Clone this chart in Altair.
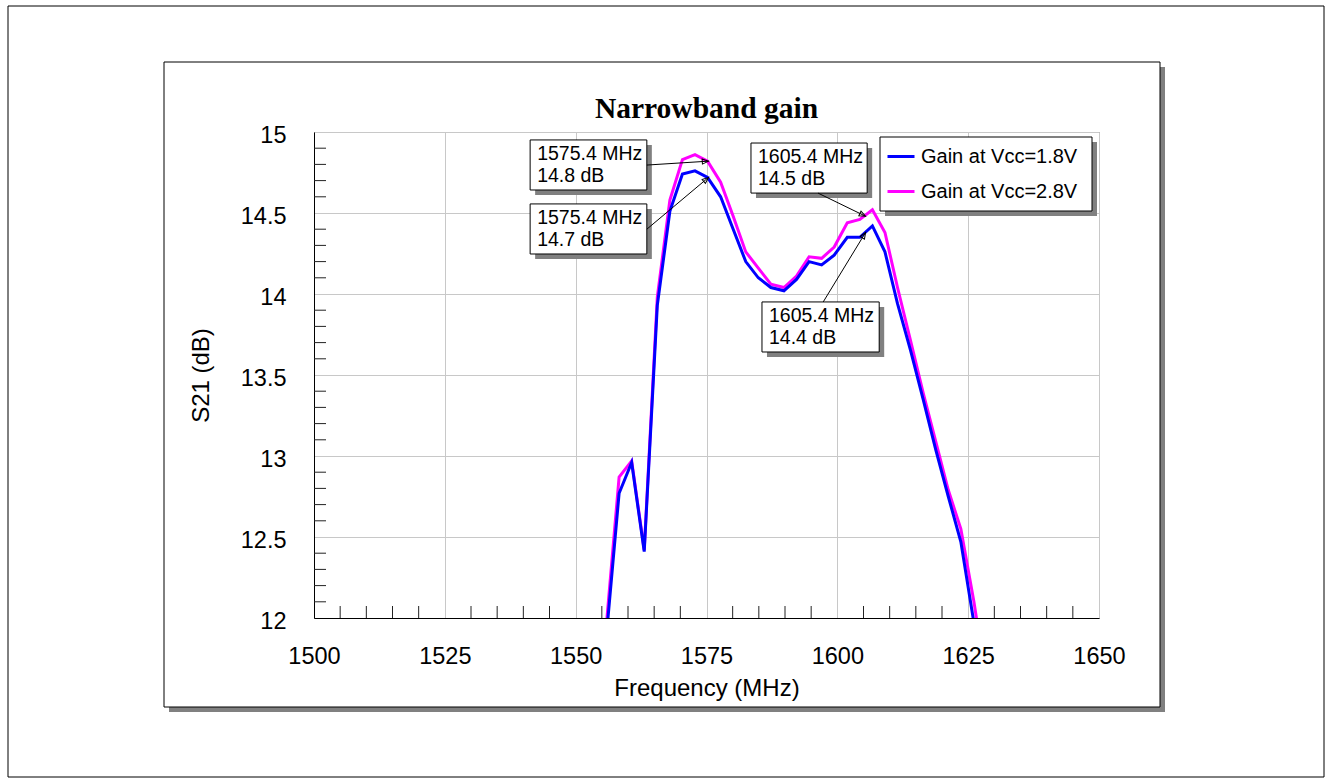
import math
import altair as alt
import pandas as pd

# ---------------- data ----------------
freq = [1555.9, 1558.3, 1560.7, 1563.1, 1565.6, 1568.0, 1570.4, 1572.8, 1575.2, 1577.7,
        1580.1, 1582.5, 1584.9, 1587.3, 1589.8, 1592.2, 1594.6, 1597.0, 1599.4, 1601.9,
        1604.3, 1606.7, 1609.1, 1611.5, 1614.0, 1616.4, 1618.8, 1621.2, 1623.6, 1626.1,
        1628.5]
gain_18 = [11.90, 12.77, 12.96, 12.41, 13.93, 14.51, 14.74, 14.76, 14.72, 14.60,
           14.40, 14.20, 14.10, 14.04, 14.02, 14.09, 14.20, 14.18, 14.24, 14.35,
           14.35, 14.42, 14.26, 13.94, 13.65, 13.35, 13.04, 12.75, 12.47, 11.97,
           11.30]
gain_28 = [11.97, 12.87, 12.97, 12.42, 13.98, 14.58, 14.83, 14.86, 14.82, 14.69,
           14.48, 14.26, 14.16, 14.06, 14.04, 14.11, 14.23, 14.22, 14.29, 14.44,
           14.46, 14.52, 14.38, 14.04, 13.71, 13.39, 13.09, 12.79, 12.55, 12.10,
           11.60]
series = ["Gain at Vcc=1.8V", "Gain at Vcc=2.8V"]
colors = ["#0000FF", "#FF00FF"]

x_ticks = [1500, 1525, 1550, 1575, 1600, 1625, 1650]
y_ticks = [12, 12.5, 13, 13.5, 14, 14.5, 15]

title_text = "Narrowband gain"
ann_text = ["1575.4 MHz\n14.8 dB", "1575.4 MHz\n14.7 dB",
            "1605.4 MHz\n14.5 dB", "1605.4 MHz\n14.4 dB"]
ann_left = [1541.3, 1541.3, 1583.5, 1585.6]
ann_right = [1563.6, 1563.6, 1605.7, 1608.0]
ann_top = [14.951, 14.556, 14.932, 13.951]
ann_bottom = [14.642, 14.247, 14.623, 13.642]
arrow_from_x = [1563.6, 1563.6, 1596.3, 1597.3]
arrow_from_y = [14.796, 14.40, 14.623, 13.951]
arrow_to_x = [1575.4, 1575.4, 1605.4, 1605.4]
arrow_to_y = [14.82, 14.72, 14.48, 14.38]

# ---------------- layout ----------------
W, H = 785, 486
X0, Y0 = 314, 132
XDOM = [1500, 1650]
YDOM = [12, 15]

df = pd.DataFrame({
    "freq": freq * 2,
    "gain": gain_18 + gain_28,
    "series": [series[0]] * len(freq) + [series[1]] * len(freq),
})

xs = alt.Scale(domain=XDOM, nice=False, zero=False)
ys = alt.Scale(domain=YDOM, nice=False, zero=False)

FONT = "Liberation Sans"

xaxis = alt.Axis(values=x_ticks, format="d", grid=True, gridColor="#c8c8c8",
                 gridWidth=1, ticks=False, domainColor="black", domainWidth=1,
                 labelFont=FONT, labelFontSize=23.5, labelColor="black",
                 labelPadding=26, labelFlush=False, labelOverlap=False,
                 title="Frequency (MHz)", titleFont=FONT, titleFontSize=24,
                 titleFontWeight="normal", titleColor="black",
                 titleX=W / 2, titleY=70, titleAlign="center", titleBaseline="middle")
yaxis = alt.Axis(values=y_ticks, format="~g", grid=True, gridColor="#c8c8c8",
                 gridWidth=1, ticks=False, domainColor="black", domainWidth=1,
                 labelFont=FONT, labelFontSize=23.5, labelColor="black",
                 labelPadding=28, labelFlush=False, labelOverlap=False, labelOffset=3,
                 title="S21 (dB)", titleFont=FONT, titleFontSize=24,
                 titleFontWeight="normal", titleColor="black",
                 titleX=-113, titleY=H / 2, titleAngle=270,
                 titleAlign="center", titleBaseline="middle")

legend = alt.Legend(orient="none", legendX=572, legendY=9.5, title=None,
                    symbolType="stroke", symbolSize=729, symbolStrokeWidth=3,
                    labelFont=FONT, labelFontSize=20, labelColor="black",
                    labelOffset=5, rowPadding=10, padding=0,
                    fillColor="transparent", strokeColor="transparent")

color = alt.Color("series:N", scale=alt.Scale(domain=series, range=colors), legend=legend)

one = pd.DataFrame({"a": [0]})

# outer frame and panel
outer = alt.Chart(one).mark_rect(filled=False, stroke="black", strokeWidth=1).encode(
    x=alt.value(8 - X0), x2=alt.value(1324 - X0),
    y=alt.value(6 - Y0), y2=alt.value(777 - Y0))
panel_sh_r = alt.Chart(one).mark_rect(color="#808080").encode(
    x=alt.value(1160 - X0), x2=alt.value(1165 - X0),
    y=alt.value(67 - Y0), y2=alt.value(712 - Y0))
panel_sh_b = alt.Chart(one).mark_rect(color="#808080").encode(
    x=alt.value(169 - X0), x2=alt.value(1165 - X0),
    y=alt.value(707 - Y0), y2=alt.value(712 - Y0))
panel = alt.Chart(one).mark_rect(filled=False, stroke="black", strokeWidth=1).encode(
    x=alt.value(164 - X0), x2=alt.value(1160 - X0),
    y=alt.value(62 - Y0), y2=alt.value(707 - Y0))

title = alt.Chart(pd.DataFrame({"t": [title_text]})).mark_text(
    font="Liberation Serif", fontSize=29.5, fontWeight="bold", color="black",
    align="center", baseline="alphabetic").encode(
    x=alt.value(W / 2), y=alt.value(-14), text="t:N")

# minor ticks (inward)
x_minor = pd.DataFrame({"v": [f for f in range(1505, 1650, 5) if f % 25 != 0]})
y_minor = pd.DataFrame({"v": [round(12 + 0.1 * i, 1) for i in range(1, 30) if i % 5 != 0]})
xt = alt.Chart(x_minor).mark_rule(color="#222", strokeWidth=1).encode(
    x=alt.X("v:Q", scale=xs, axis=xaxis), y=alt.value(H - 12), y2=alt.value(H))
yt = alt.Chart(y_minor).mark_rule(color="#222", strokeWidth=1).encode(
    y=alt.Y("v:Q", scale=ys, axis=yaxis), x=alt.value(0), x2=alt.value(12))

base = alt.Chart(df).encode(
    x=alt.X("freq:Q", scale=xs, axis=xaxis),
    y=alt.Y("gain:Q", scale=ys, axis=yaxis),
    color=color,
)
line28 = base.transform_filter(alt.datum.series == series[1]).mark_line(
    clip=True, strokeWidth=3)
line18 = base.transform_filter(alt.datum.series == series[0]).mark_line(
    clip=True, strokeWidth=3)

# annotations
ann = pd.DataFrame({"text": ann_text, "x1": ann_left, "x2": ann_right,
                    "y1": ann_top, "y2": ann_bottom})
ann_sh = alt.Chart(ann).mark_rect(color="#808080", xOffset=5, x2Offset=5,
                                  yOffset=5, y2Offset=5).encode(
    x=alt.X("x1:Q", scale=xs), x2="x2:Q", y=alt.Y("y1:Q", scale=ys), y2="y2:Q")
ann_box = alt.Chart(ann).mark_rect(fill="white", stroke="black", strokeWidth=1).encode(
    x=alt.X("x1:Q", scale=xs), x2="x2:Q", y=alt.Y("y1:Q", scale=ys), y2="y2:Q")
ann_txt = alt.Chart(ann).mark_text(align="left", baseline="top", dx=7, dy=5,
                                   font=FONT, fontSize=19.5, lineBreak="\n",
                                   lineHeight=22, color="black").encode(
    x=alt.X("x1:Q", scale=xs), y=alt.Y("y1:Q", scale=ys), text="text:N")

angles = []
for fx, fy, tx, ty in zip(arrow_from_x, arrow_from_y, arrow_to_x, arrow_to_y):
    dxp = (tx - fx) * W / (XDOM[1] - XDOM[0])
    dyp = -(ty - fy) * H / (YDOM[1] - YDOM[0])
    angles.append(math.degrees(math.atan2(dxp, -dyp)) % 360)
arr = pd.DataFrame({"fx": arrow_from_x, "fy": arrow_from_y,
                    "tx": arrow_to_x, "ty": arrow_to_y, "ang": angles})
arrow_line = alt.Chart(arr).mark_rule(color="black", strokeWidth=1).encode(
    x=alt.X("fx:Q", scale=xs), y=alt.Y("fy:Q", scale=ys), x2="tx:Q", y2="ty:Q")
arrow_head = alt.Chart(arr).mark_point(shape="M0,0L-0.4,1L0.4,1Z", size=160,
                                       filled=False, stroke="black", strokeWidth=1,
                                       opacity=1).encode(
    x=alt.X("tx:Q", scale=xs), y=alt.Y("ty:Q", scale=ys),
    angle=alt.Angle("ang:Q", scale=None))

# legend box (drawn behind the legend)
leg_sh = alt.Chart(one).mark_rect(color="#808080").encode(
    x=alt.value(571), x2=alt.value(783), y=alt.value(10), y2=alt.value(84))
leg_box = alt.Chart(one).mark_rect(fill="white", stroke="black", strokeWidth=1).encode(
    x=alt.value(566), x2=alt.value(778), y=alt.value(5), y2=alt.value(79))

chart = alt.layer(
    outer, panel_sh_r, panel_sh_b, panel, title, xt, yt, line28, line18,
    ann_sh, ann_box, ann_txt, arrow_line, arrow_head, leg_sh, leg_box,
).properties(
    width=W, height=H,
    autosize=alt.AutoSizeParams(type="none"),
    padding={"left": X0, "top": Y0, "right": 1332 - X0 - W, "bottom": 784 - Y0 - H},
    background="white",
).configure_view(stroke="#707070", strokeWidth=1)

chart.save("out.html", embed_options={"renderer": "svg", "actions": False})
